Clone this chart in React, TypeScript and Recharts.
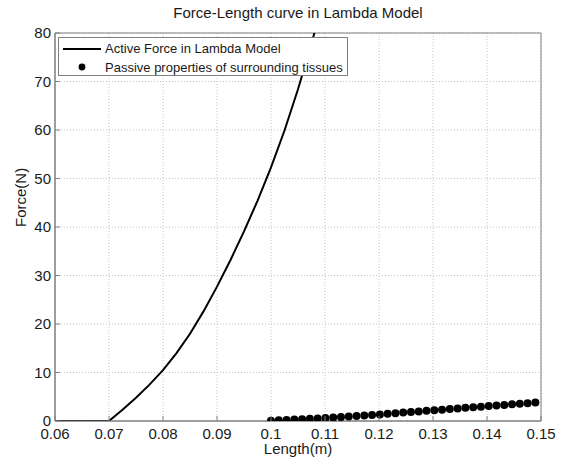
import React from 'react';
import {
  ComposedChart, Line, Scatter, XAxis, YAxis, CartesianGrid, ReferenceArea, Legend,
} from 'recharts';

// active force (Lambda model)
const activeLength = [0.06, 0.065, 0.07, 0.0725, 0.075, 0.0775, 0.08, 0.0825, 0.085, 0.0875, 0.09, 0.0925, 0.095, 0.0975, 0.1, 0.1025, 0.105, 0.1075, 0.11];
const activeForce = [0, 0, 0, 2.3, 4.8, 7.5, 10.5, 14.0, 18.0, 22.6, 27.7, 33.2, 39.1, 45.4, 52.3, 59.9, 68.4, 77.8, 88.2];

// passive tissue properties (dots)
const passiveLength = [
  0.1, 0.10144, 0.10288, 0.10432, 0.10576, 0.1072, 0.10864, 0.11008, 0.11152, 0.11296,
  0.1144, 0.11584, 0.11728, 0.11872, 0.12016, 0.1216, 0.12304, 0.12448, 0.12592, 0.12736,
  0.1288, 0.13024, 0.13168, 0.13312, 0.13456, 0.136, 0.13744, 0.13888, 0.14032, 0.14176,
  0.1432, 0.14464, 0.14608, 0.14752, 0.14896,
];
const passiveForce = [
  0.05, 0.13, 0.21, 0.29, 0.37, 0.45, 0.53, 0.61, 0.71, 0.82,
  0.93, 1.04, 1.14, 1.25, 1.36, 1.48, 1.61, 1.73, 1.85, 1.98,
  2.1, 2.22, 2.34, 2.47, 2.59, 2.71, 2.83, 2.96, 3.08, 3.2,
  3.32, 3.44, 3.56, 3.68, 3.8,
];

const xTicks = [0.06, 0.07, 0.08, 0.09, 0.1, 0.11, 0.12, 0.13, 0.14, 0.15];
const yTicks = [0, 10, 20, 30, 40, 50, 60, 70, 80];

const activeData = activeLength.map((x, i) => ({ x, f: activeForce[i] }));
const passiveData = passiveLength.map((x, i) => ({ x, f: passiveForce[i] }));

const FONT = '"Liberation Sans", Arial, sans-serif';
const AXIS = '#808080';
const INK = '#1a1a1a';

const BottomTick = (p: any) => (
  <g>
    <line x1={p.x} y1={p.y} x2={p.x} y2={p.y - 5} stroke={AXIS} />
    <text x={p.x} y={p.y + 18} textAnchor="middle" fontSize={15} fill={INK} fontFamily={FONT}>
      {String(p.payload.value)}
    </text>
  </g>
);
const TopTick = (p: any) => <line x1={p.x} y1={p.y} x2={p.x} y2={p.y + 5} stroke={AXIS} />;
const LeftTick = (p: any) => (
  <g>
    <line x1={p.x} y1={p.y} x2={p.x + 5} y2={p.y} stroke={AXIS} />
    <text x={p.x - 4} y={p.y + 5} textAnchor="end" fontSize={15} fill={INK} fontFamily={FONT}>
      {p.payload.value}
    </text>
  </g>
);
const RightTick = (p: any) => <line x1={p.x} y1={p.y} x2={p.x - 5} y2={p.y} stroke={AXIS} />;

const Dot = (p: any) => <circle cx={p.cx} cy={p.cy} r={4} fill="#000" />;

const LegendBox = () => (
  <div
    style={{
      border: `1px solid ${AXIS}`, background: '#fff', width: 290, height: 39,
      fontFamily: FONT, fontSize: 13, color: INK, boxSizing: 'border-box',
    }}
  >
    <div style={{ display: 'flex', alignItems: 'center', height: 19, marginTop: 1 }}>
      <svg width={46} height={10}><line x1={4} y1={5} x2={42} y2={5} stroke="#000" strokeWidth={2} /></svg>
      <span>Active Force in Lambda Model</span>
    </div>
    <div style={{ display: 'flex', alignItems: 'center', height: 18 }}>
      <svg width={46} height={10}><circle cx={23} cy={5} r={3.4} fill="#000" /></svg>
      <span>Passive properties of surrounding tissues</span>
    </div>
  </div>
);

export default function App() {
  return (
    <div style={{ position: 'absolute', left: 0, top: 0, width: 570, height: 461, background: '#fff' }}>
      <div
        style={{
          position: 'absolute', left: 0, width: 596, top: 4, textAlign: 'center',
          fontFamily: FONT, fontSize: 15, color: INK,
        }}
      >
        Force-Length curve in Lambda Model
      </div>
      <ComposedChart width={570} height={461} margin={{ top: 33, right: 29, bottom: 0, left: 0 }}>
        <CartesianGrid stroke="#c4c4c4" strokeDasharray="1 2" horizontalValues={yTicks} verticalValues={xTicks} />
        <XAxis
          dataKey="x" type="number" domain={[0.06, 0.15]} ticks={xTicks} allowDataOverflow
          height={40} tickSize={0} tickMargin={0} tickLine={false} stroke={AXIS} tick={BottomTick}
          label={{ value: 'Length(m)', position: 'insideBottom', offset: 7, fill: INK, fontSize: 15, fontFamily: FONT }}
        />
        <XAxis
          xAxisId="top" orientation="top" dataKey="x" type="number" domain={[0.06, 0.15]} ticks={xTicks}
          height={0} tickSize={0} tickMargin={0} tickLine={false} axisLine={false} tick={TopTick}
        />
        <YAxis
          dataKey="f" type="number" domain={[0, 80]} ticks={yTicks} allowDataOverflow
          width={55} tickSize={0} tickMargin={0} tickLine={false} stroke={AXIS} tick={LeftTick}
          label={{ value: 'Force(N)', angle: -90, position: 'insideLeft', offset: 21, fill: INK, fontSize: 15, fontFamily: FONT }}
        />
        <YAxis
          yAxisId="right" orientation="right" dataKey="f" type="number" domain={[0, 80]} ticks={yTicks}
          width={0} tickSize={0} tickMargin={0} tickLine={false} axisLine={false} tick={RightTick}
        />
        <ReferenceArea x1={0.06} x2={0.15} y1={0} y2={80} fill="none" stroke={AXIS} strokeOpacity={1} ifOverflow="visible" />
        <Line
          data={activeData} dataKey="f" type="linear" stroke="#000" strokeWidth={2}
          dot={false} isAnimationActive={false} name="Active Force in Lambda Model"
        />
        <Scatter
          data={passiveData} dataKey="f" shape={Dot} isAnimationActive={false}
          name="Passive properties of surrounding tissues"
        />
        <Legend
          layout="horizontal" verticalAlign="middle" align="center"
          wrapperStyle={{ top: 37, left: 58, width: 290, height: 39 }}
          content={() => <LegendBox />}
        />
      </ComposedChart>
    </div>
  );
}
